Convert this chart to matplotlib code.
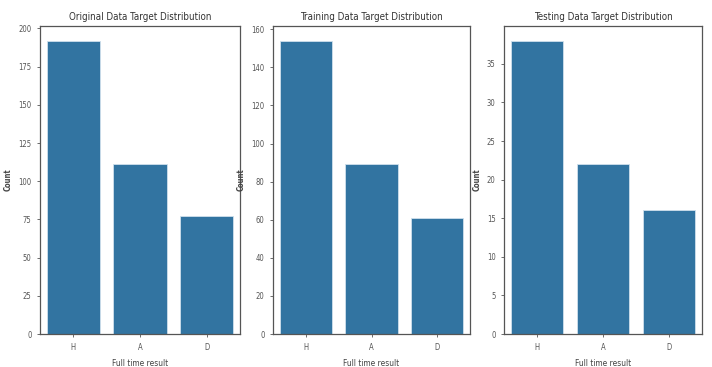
import matplotlib
matplotlib.use('Agg')
import matplotlib.pyplot as plt
import numpy as np

# Nombre de matchs par résultat final (H / A / D)
categories = ['H', 'A', 'D']
original_counts = [192, 111, 77]
train_counts = [154, 89, 61]
test_counts = [38, 22, 16]

titles = ['Original Data Target Distribution',
          'Training Data Target Distribution',
          'Testing Data Target Distribution']
series = [original_counts, train_counts, test_counts]

plt.rcParams['font.family'] = ['DejaVu Sans']
plt.rcParams['font.stretch'] = 'condensed'

bar_color = '#3274a1'

fig = plt.figure(figsize=(7.12, 3.67), dpi=100)
boxes = [(40, 240), (273, 470), (504, 702)]
W, H = 712, 367
top, bottom = 26, 334

for (x0, x1), title, counts in zip(boxes, titles, series):
    ax = fig.add_axes([x0 / W, 1 - bottom / H, (x1 - x0) / W, (bottom - top) / H])
    x = np.arange(len(categories))
    ax.bar(x, counts, width=0.8, color=bar_color, edgecolor='#cfe0ec', linewidth=0.6)
    ax.set_xticks(x)
    ax.set_xticklabels(categories)
    ax.set_xlim(-0.5, len(categories) - 0.5)
    ax.set_title(title, fontsize=7, pad=4, color='#333333')
    ax.set_xlabel('Full time result', fontsize=6, color='#444444', labelpad=5)
    ax.set_ylabel('Count', fontsize=5.5, fontweight='bold', color='#444444')
    ax.tick_params(labelsize=5.5, colors='#555555', length=2.5, width=0.6)
    ax.tick_params(axis='x', pad=4)
    for s in ax.spines.values():
        s.set_linewidth(0.9)
        s.set_color('#555555')

fig.savefig('out.png', dpi=100)
